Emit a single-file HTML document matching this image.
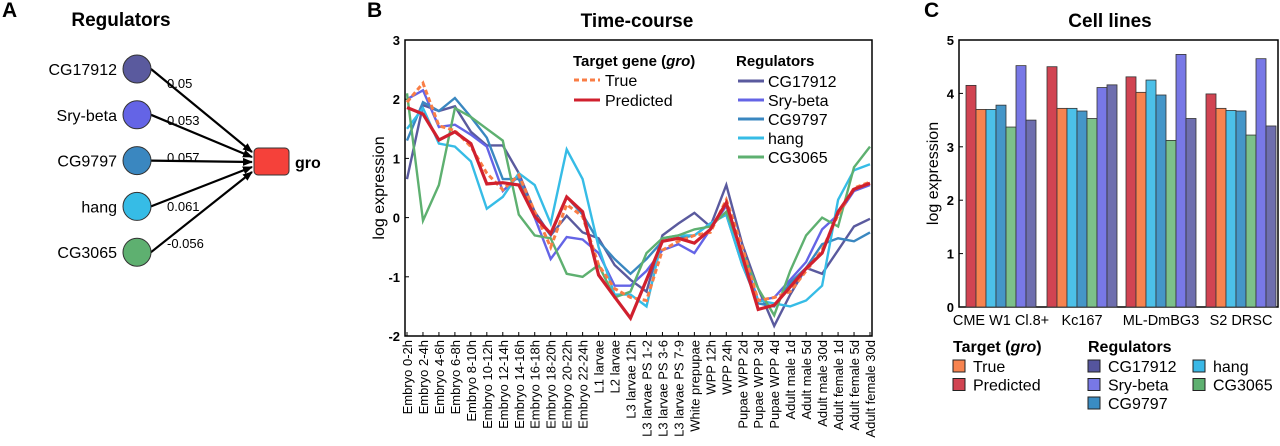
<!DOCTYPE html>
<html><head><meta charset="utf-8"><style>
body{margin:0;background:#fff;}
svg{display:block;font-family:"Liberation Sans",Arial,sans-serif;}
</style></head><body>
<svg id="fig" width="1280" height="446" viewBox="0 0 1280 446">
<text x="2" y="17" font-size="21" font-weight="bold">A</text>
<text x="367" y="17" font-size="21" font-weight="bold">B</text>
<text x="924" y="17" font-size="21" font-weight="bold">C</text>
<text x="121" y="26" font-size="19" font-weight="bold" text-anchor="middle">Regulators</text>
<text x="637" y="27" font-size="19" font-weight="bold" text-anchor="middle">Time-course</text>
<text x="1110" y="27" font-size="19" font-weight="bold" text-anchor="middle">Cell lines</text>
<defs><marker id="arr" markerWidth="10" markerHeight="8" refX="9" refY="4" orient="auto" markerUnits="userSpaceOnUse"><path d="M0,0 L10,4 L0,8 z" fill="#000"/></marker></defs>
<g id="net"></g>
<g id="line"></g>
<g id="bar"></g>
</svg>
<script>
const regNames=["CG17912","Sry-beta","CG9797","hang","CG3065"];
const regWeights=["0.05","0.053","0.057","0.061","-0.056"];
const timeLabels=["Embryo 0-2h","Embryo 2-4h","Embryo 4-6h","Embryo 6-8h","Embryo 8-10h","Embryo 10-12h","Embryo 12-14h","Embryo 14-16h","Embryo 16-18h","Embryo 18-20h","Embryo 20-22h","Embryo 22-24h","L1 larvae","L2 larvae","L3 larvae 12h","L3 larvae PS 1-2","L3 larvae PS 3-6","L3 larvae PS 7-9","White prepupae","WPP 12h","WPP 24h","Pupae WPP 2d","Pupae WPP 3d","Pupae WPP 4d","Adult male 1d","Adult male 5d","Adult male 30d","Adult female 1d","Adult female 5d","Adult female 30d"];
const yTicksLine=[3,2,1,0,-1,-2];
const cg17912=[0.65,1.9,1.8,1.88,1.45,1.22,1.22,0.75,0.1,-0.3,0.03,-0.25,-0.35,-0.8,-1.05,-1.25,-0.3,-0.1,0.08,-0.15,0.55,-0.45,-1.2,-1.83,-1.3,-0.85,-0.95,-0.55,-0.15,-0.02];
const srybeta=[2.0,2.15,1.53,1.57,1.4,1.2,0.45,0.7,0.0,-0.7,-0.33,-0.37,-0.6,-1.15,-1.15,-0.9,-0.55,-0.45,-0.6,-0.2,0.2,-0.6,-1.4,-1.35,-1.05,-0.75,-0.2,0.05,0.45,0.55];
const cg9797=[1.3,1.95,1.8,2.02,1.7,1.35,0.65,0.65,0.05,-0.3,0.35,0.05,-0.4,-0.7,-0.95,-0.7,-0.4,-0.35,-0.3,-0.1,0.05,-0.8,-1.45,-1.5,-1.1,-0.85,-0.45,-0.35,-0.4,-0.25];
const hang=[1.5,1.85,1.25,1.2,0.95,0.15,0.35,0.75,0.55,-0.1,1.15,0.65,-0.5,-1.3,-1.3,-1.5,-0.35,-0.3,-0.3,-0.1,0.05,-0.8,-1.4,-1.45,-1.5,-1.4,-1.15,0.3,0.8,0.9];
const cg3065=[2.1,-0.05,0.55,1.85,1.7,1.5,1.3,0.05,-0.3,-0.35,-0.95,-1.0,-0.8,-1.35,-1.25,-0.6,-0.35,-0.3,-0.2,-0.15,0.1,-0.6,-1.2,-1.65,-0.9,-0.3,0.0,-0.15,0.85,1.2];
const trueGro=[1.95,2.27,1.55,1.47,1.2,0.75,0.47,0.72,0.1,-0.5,0.22,0.02,-0.8,-1.2,-1.35,-1.4,-0.55,-0.4,-0.3,-0.25,0.3,-0.5,-1.4,-1.35,-1.25,-0.9,-0.55,0.05,0.5,0.6];
const predGro=[1.86,1.75,1.31,1.45,1.25,0.57,0.59,0.55,0.02,-0.27,0.35,0.1,-0.97,-1.34,-1.7,-1.05,-0.4,-0.35,-0.43,-0.2,0.25,-0.65,-1.55,-1.48,-1.17,-0.86,-0.6,0.1,0.48,0.58];
const cellLines=["CME W1 Cl.8+","Kc167","ML-DmBG3","S2 DRSC"];
const yTicksBar=[0,1,2,3,4,5];
const barPred=[4.15,4.5,4.31,3.99];
const barTrue=[3.7,3.72,4.02,3.72];
const barHang=[3.7,3.72,4.25,3.68];
const barCG9797=[3.78,3.67,3.97,3.67];
const barCG3065=[3.37,3.53,3.12,3.22];
const barSry=[4.52,4.11,4.73,4.65];
const barCG17912=[3.5,4.16,3.53,3.39];

const NS="http://www.w3.org/2000/svg";
function mk(tag,attrs,parent,txt){const e=document.createElementNS(NS,tag);for(const k in attrs)e.setAttribute(k,attrs[k]);if(txt!==undefined)e.textContent=txt;parent.appendChild(e);return e;}
const C={cg17912:"#5a5a9e",sry:"#6464e6",cg9797:"#3a87c0",hang:"#36bce6",cg3065:"#5eb070",trueC:"#f97d45",pred:"#d0202e"};

// Panel A network
const net=document.getElementById('net');
const nodeCols=[C.cg17912,C.sry,C.cg9797,C.hang,C.cg3065];
const weightY=[88,125,162,211,248];
regNames.forEach((n,i)=>{
  const cy=69+i*45.8;
  const ln=mk('line',{x1:151,y1:cy,x2:252,y2:162+(i-2)*5,stroke:'#000','stroke-width':2.2,'marker-end':'url(#arr)'},net);
  
  
  const c=mk('circle',{cx:137,cy:cy,r:14,fill:nodeCols[i],stroke:'#333','stroke-width':1},net);
  
  
  const t=mk('text',{x:117,y:cy+6,'font-size':16,'text-anchor':'end'},net,n);
  
  
  const w=mk('text',{x:167,y:weightY[i],'font-size':13},net,regWeights[i]);
  
  
});
const box=mk('rect',{x:254,y:148,width:35,height:27,rx:4,fill:'#f5413a',stroke:'#333','stroke-width':1},net);


const gt=mk('text',{x:295,y:168,'font-size':16,'font-weight':'bold'},net,'gro');



// Panel B line chart
const L=document.getElementById('line');
const lx0=405,lx1=872,ly0=40,ly1=336,yMin=-2,yMax=3;
const xL=i=>407+i*(870-407)/(timeLabels.length-1);
const yL=v=>ly1-(v-yMin)/(yMax-yMin)*(ly1-ly0);
const fr=mk('rect',{x:lx0,y:ly0,width:lx1-lx0,height:ly1-ly0,fill:'none',stroke:'#000','stroke-width':1.5},L);


yTicksLine.forEach(v=>{
  const t=mk('text',{x:lx0-5,y:yL(v)+5,'font-size':13,'font-weight':'bold','text-anchor':'end'},L,String(v));
  
  
  mk('line',{x1:lx0,x2:lx0+4,y1:yL(v),y2:yL(v),stroke:'#000'},L);
});
const yt=mk('text',{x:0,y:0,'font-size':16,'text-anchor':'middle',transform:`translate(384,${(ly0+ly1)/2}) rotate(-90)`},L,'log expression');


timeLabels.forEach((s,i)=>{
  mk('line',{x1:xL(i),x2:xL(i),y1:ly1,y2:ly1-4,stroke:'#000'},L);
  const t=mk('text',{x:0,y:0,'font-size':13,'text-anchor':'end',transform:`translate(${xL(i)+5},${ly1+4}) rotate(-90)`},L,s);
  
  
});
const series=[[cg17912,C.cg17912,'cg17912'],[srybeta,C.sry,'sry-beta'],[cg9797,C.cg9797,'cg9797'],[hang,C.hang,'hang'],[cg3065,C.cg3065,'cg3065']];
function path(arr){return arr.map((v,i)=>(i?'L':'M')+xL(i).toFixed(1)+','+yL(v).toFixed(1)).join(' ');}
series.forEach(s=>{
  const p=mk('path',{d:path(s[0]),fill:'none',stroke:s[1],'stroke-width':2.4},L);
  
  
});
const pt=mk('path',{d:path(trueGro),fill:'none',stroke:C.trueC,'stroke-width':3,'stroke-dasharray':'5,3'},L);


const pp=mk('path',{d:path(predGro),fill:'none',stroke:C.pred,'stroke-width':3.2},L);


// legend
const lg=mk('g',{},L);


mk('text',{x:573,y:66,'font-size':15,'font-weight':'bold'},lg).innerHTML='Target gene (<tspan font-style="italic">gro</tspan>)';
[['True',C.trueC,'5,3'],['Predicted',C.pred,'']].forEach((e,i)=>{
  const y=80+i*20;
  const l=mk('line',{x1:574,x2:600,y1:y,y2:y,stroke:e[1],'stroke-width':3,'stroke-dasharray':e[2]},lg);
  
  
  const t=mk('text',{x:605,y:y+6,'font-size':16},lg,e[0]);
  
  
});
mk('text',{x:736,y:66,'font-size':15,'font-weight':'bold'},lg,'Regulators');
series.forEach((s,i)=>{
  const y=81+i*19;
  const l=mk('line',{x1:738,x2:764,y1:y,y2:y,stroke:s[1],'stroke-width':3},lg);
  
  
  const t=mk('text',{x:768,y:y+6,'font-size':16},lg,regNames[i]);
  
  
});

// Panel C bar chart
const B=document.getElementById('bar');
const bx0=959,bx1=1278,by0=40,by1=307;
const yB=v=>by1-v/5*(by1-by0);
const bf=mk('rect',{x:bx0,y:by0,width:bx1-bx0,height:by1-by0,fill:'none',stroke:'#000','stroke-width':1.5},B);


yTicksBar.forEach(v=>{
  const t=mk('text',{x:bx0-5,y:yB(v)+5,'font-size':13,'font-weight':'bold','text-anchor':'end'},B,String(v));
  
  
  mk('line',{x1:bx0,x2:bx0+4,y1:yB(v),y2:yB(v),stroke:'#000'},B);
});
const byt=mk('text',{x:0,y:0,'font-size':16,'text-anchor':'middle',transform:`translate(938,${(by0+by1)/2}) rotate(-90)`},B,'log expression');


const barSeries=[[barPred,'#d14452','predicted'],[barTrue,'#f7834f','true'],[barHang,'#4cc0e8','hang'],[barCG9797,'#4596c8','cg9797'],[barCG3065,'#7cc08a','cg3065'],[barSry,'#7878e6','sry-beta'],[barCG17912,'#6e6eae','cg17912']];
const groupStart=[966,1047,1126,1206];
cellLines.forEach((c,g)=>{
  barSeries.forEach((s,k)=>{
    const x=groupStart[g]+k*10;
    const r=mk('rect',{x:x,y:yB(s[0][g]),width:10,height:yB(0)-yB(s[0][g]),fill:s[1],stroke:'#333','stroke-width':0.8},B);
    
    
  });
  const t=mk('text',{x:groupStart[g]+35,y:325,'font-size':14.5,'text-anchor':'middle'},B,c);
  
  
});
const bl=mk('g',{},B);


mk('text',{x:953,y:352,'font-size':16,'font-weight':'bold'},bl).innerHTML='Target (<tspan font-style="italic">gro</tspan>)';
mk('text',{x:1088,y:352,'font-size':16,'font-weight':'bold'},bl,'Regulators');
const legItems=[[953,'#f7834f','True',0],[953,'#d14452','Predicted',1],[1088,'#55559e','CG17912',0],[1088,'#7878e6','Sry-beta',1],[1088,'#3a8cc2','CG9797',2],[1193,'#3ab8e6','hang',0],[1193,'#5eb070','CG3065',1]];
legItems.forEach(e=>{
  const y=371+e[3]*18.5;
  const r=mk('rect',{x:e[0],y:y-11,width:12,height:12,fill:e[1],stroke:'#222','stroke-width':1},bl);
  
  
  const t=mk('text',{x:e[0]+20,y:y+1,'font-size':16},bl,e[2]);
  
  
});
</script>
</body></html>
